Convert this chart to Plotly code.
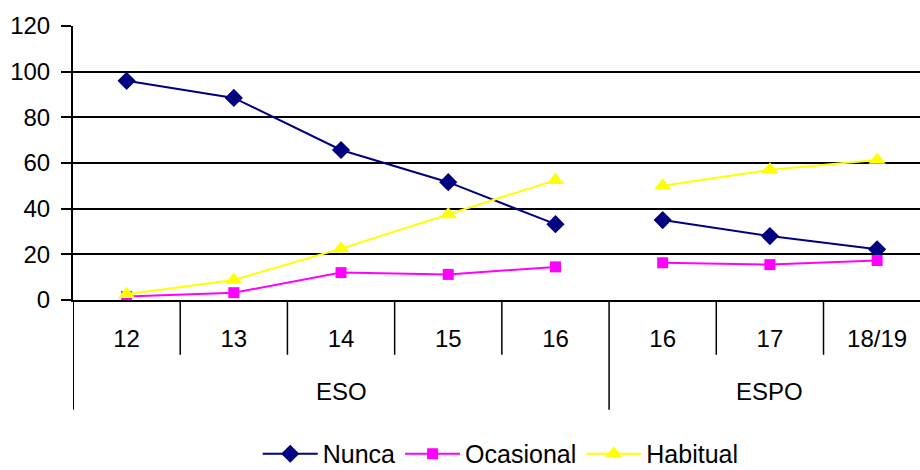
import plotly.graph_objects as go

# ---- data ----
groups = ["ESO", "ESPO"]
eso_ages = ["12", "13", "14", "15", "16"]
espo_ages = ["16", "17", "18/19"]

nunca_eso = [96, 88.5, 65.7, 51.6, 33.2]
nunca_espo = [35, 28, 22.2]
ocasional_eso = [1.5, 3.2, 12.0, 11.2, 14.5]
ocasional_espo = [16.3, 15.5, 17.3]
habitual_eso = [2.5, 8.8, 22.5, 37.5, 52.5]
habitual_espo = [50, 57, 61.3]

y_ticks = [0, 20, 40, 60, 80, 100, 120]

# positions derived from category order
n_eso = len(eso_ages)
x_eso = list(range(n_eso))
x_espo = list(range(n_eso, n_eso + len(espo_ages)))
all_ages = eso_ages + espo_ages
all_x = x_eso + x_espo

FONT = "Liberation Sans, Arial, sans-serif"
FS = 24

series = [
    ("Nunca", nunca_eso, nunca_espo, "#000080", "diamond", 14),
    ("Ocasional", ocasional_eso, ocasional_espo, "#FF00FF", "square", 11),
    ("Habitual", habitual_eso, habitual_espo, "#FFFF00", "triangle-up", 15),
]

fig = go.Figure()
for name, ye, yp, col, sym, ms in series:
    for i, (xs, ys) in enumerate([(x_eso, ye), (x_espo, yp)]):
        fig.add_trace(go.Scatter(
            x=xs, y=ys, mode="lines+markers", name=name,
            legendgroup=name, showlegend=(i == 0),
            line=dict(color=col, width=2),
            marker=dict(symbol=sym, size=ms, color=col, line=dict(width=0)),
        ))

# category boundaries / group divider
shapes = []
n_all = len(all_ages)
for k in range(n_all - 1):
    bx = k + 0.5
    deep = (k == n_eso - 1)
    shapes.append(dict(type="line", xref="x", yref="paper", x0=bx, x1=bx,
                       y0=0, y1=(-0.401 if deep else -0.2),
                       line=dict(color="black", width=1.5)))
shapes.append(dict(type="line", xref="x", yref="paper", x0=-0.5, x1=-0.5,
                   y0=0, y1=-0.401, line=dict(color="black", width=2)))

annotations = [
    dict(text=groups[0], x=(x_eso[0] + x_eso[-1]) / 2, xref="x",
         y=-0.334, yref="paper", yanchor="middle", showarrow=False,
         font=dict(size=FS, color="black", family=FONT)),
    dict(text=groups[1], x=(x_espo[0] + x_espo[-1] + 1) / 2 - 0.5, xref="x",
         y=-0.334, yref="paper", yanchor="middle", showarrow=False,
         font=dict(size=FS, color="black", family=FONT)),
]

fig.update_layout(
    width=920, height=470,
    margin=dict(l=73, r=0, t=26, b=170, autoexpand=False),
    paper_bgcolor="white", plot_bgcolor="white",
    font=dict(family=FONT, size=FS, color="black"),
    shapes=shapes, annotations=annotations,
    legend=dict(orientation="h", x=0.505, xanchor="center", y=-0.562,
                yanchor="middle", font=dict(size=25, family=FONT),
                bgcolor="rgba(0,0,0,0)", itemsizing="trace", itemwidth=55),
    xaxis=dict(range=[-0.5, n_all - 0.6], tickvals=all_x, ticktext=all_ages,
               showgrid=False, zeroline=False, showline=True,
               linecolor="black", linewidth=1.5, ticks="",
               ticklabelstandoff=16, automargin=False,
               tickfont=dict(size=FS, family=FONT)),
    yaxis=dict(range=[0, 120], tickvals=y_ticks, showgrid=True,
               gridcolor="black", gridwidth=1.5, zeroline=False,
               showline=True, linecolor="black", linewidth=2,
               ticks="outside", ticklen=10, tickcolor="black", tickwidth=1.5,
               ticklabelstandoff=6, automargin=False,
               tickfont=dict(size=FS, family=FONT)),
)

fig.write_html(
    "out.html",
    config={"displayModeBar": False},
    post_script=(
        "document.documentElement.style.margin='0';"
        "document.body.style.margin='0';"
        "document.body.style.overflow='hidden';"
    ),
)
